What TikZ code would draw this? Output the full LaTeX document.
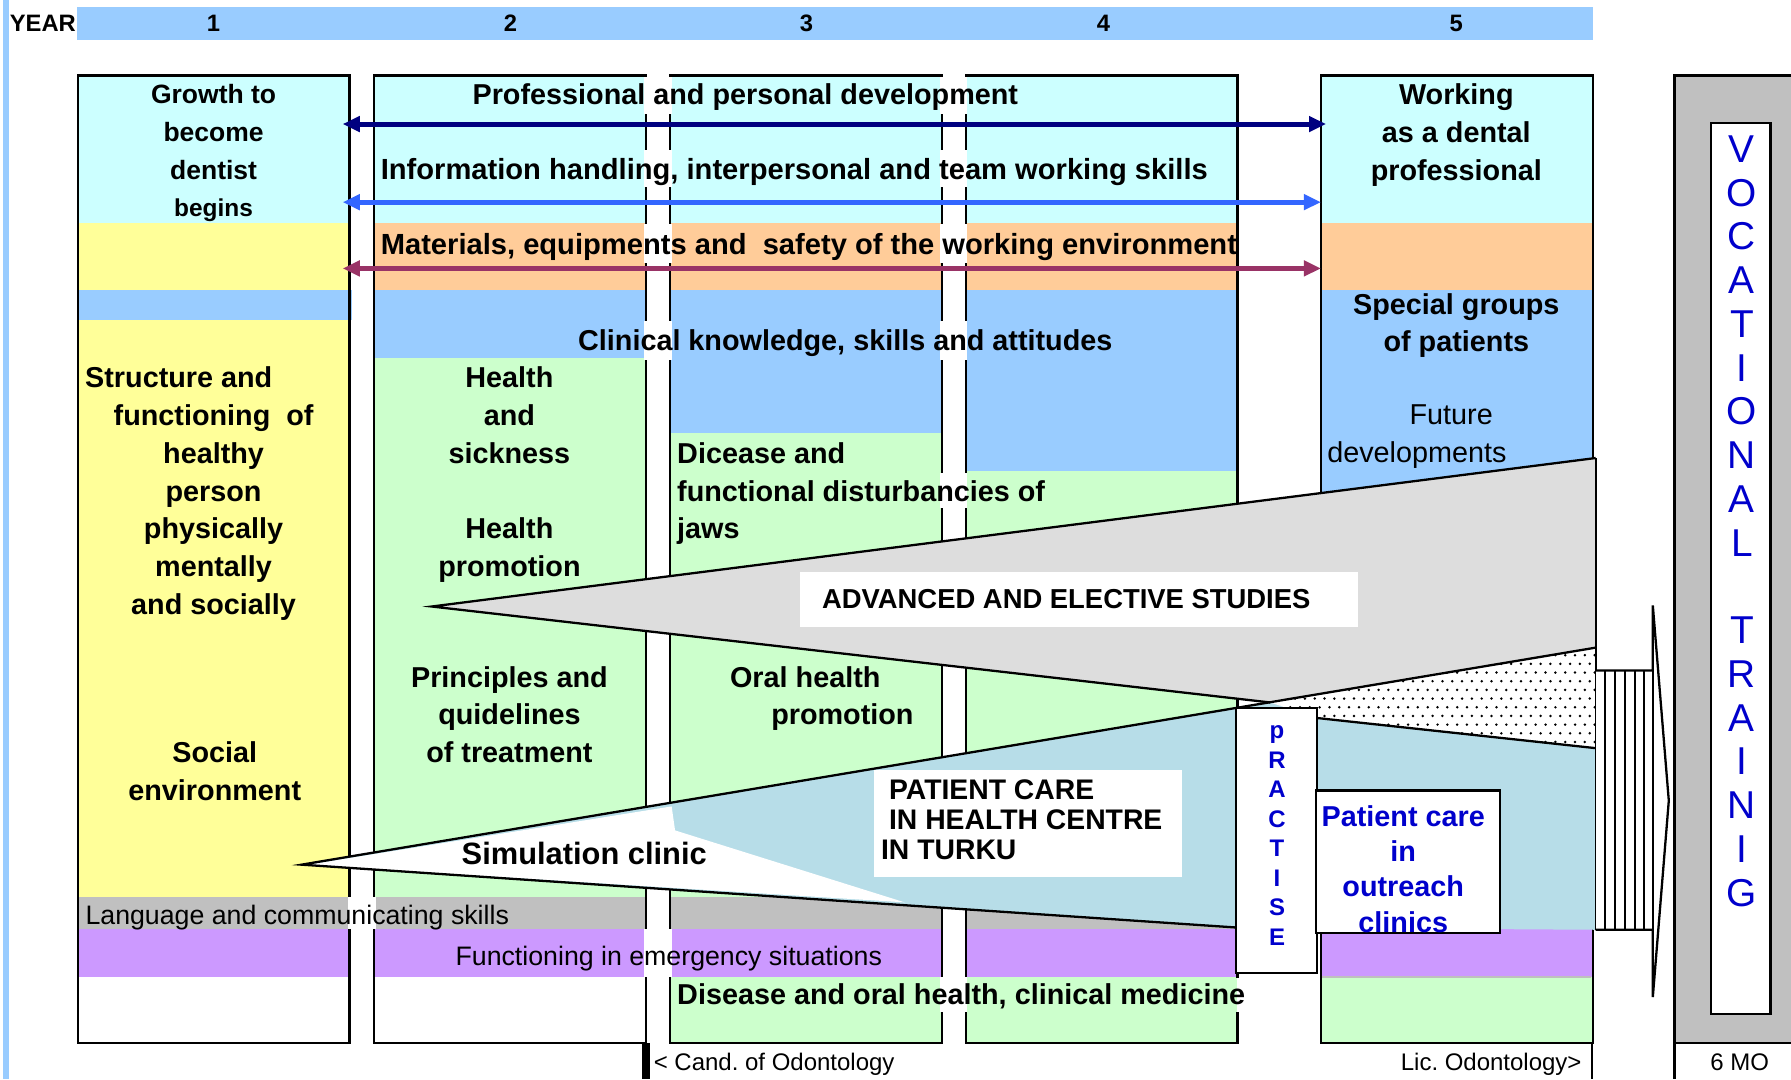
\documentclass[tikz,border=0pt]{standalone}
\usepackage{fontspec}
\setmainfont{Liberation Sans}
\usetikzlibrary{arrows.meta}
\frenchspacing

\definecolor{paleCyan}{HTML}{CCFFFF}
\definecolor{paleYellow}{HTML}{FFFF99}
\definecolor{skyBlue}{HTML}{99CCFF}
\definecolor{peach}{HTML}{FFCC99}
\definecolor{paleGreen}{HTML}{CCFFCC}
\definecolor{silver}{HTML}{C0C0C0}
\definecolor{lilac}{HTML}{CC99FF}
\definecolor{wedgeGrey}{HTML}{DDDDDD}
\definecolor{wedgeBlue}{HTML}{B7DDE8}
\definecolor{inkBlue}{HTML}{0000CC}
\definecolor{navyArrow}{HTML}{000080}
\definecolor{blueArrow}{HTML}{3366FF}
\definecolor{plumArrow}{HTML}{993366}

\begin{document}
\begin{tikzpicture}[x=0.5pt,y=-0.5pt,
    lab/.style={inner sep=0pt,anchor=north,align=center,font=\fontsize{12.6}{16.5}\selectfont\bfseries},
    labl/.style={lab,anchor=north west,align=left},
    labreg/.style={lab,font=\fontsize{12.6}{16.5}\selectfont},
    rowtext/.style={inner sep=0pt,anchor=north,font=\fontsize{11.7}{14}\selectfont},
    yeartext/.style={inner sep=0pt,anchor=north,font=\fontsize{10.4}{12}\selectfont\bfseries},
    foot/.style={inner sep=0pt,font=\fontsize{10.5}{12}\selectfont},
    colbox/.style={draw,line width=1pt},
    wedgeline/.style={line width=1pt},
    spanarrow/.style={line width=2.2pt,{Triangle[length=7.5pt,width=6.6pt]}-{Triangle[length=7.5pt,width=6.6pt]}},
    inkletter/.style={inner sep=0pt,text=inkBlue,text depth=0pt}]
\clip (0,0) rectangle (1568,945);
\fill[white] (0,0) rectangle (1568,945);

% year scale
\fill[skyBlue] (3,0) rectangle (8,945);
\fill[skyBlue] (67,6) rectangle (1395,35);
\node[yeartext] (yearlab) at (37.5,12.6) {YEAR};
\foreach \yr/\xx in {1/187,2/447,3/706,4/966,5/1275}
    \node[yeartext] (yr\yr) at (\xx,12.6) {\yr};

% colour rows of the columns
\foreach \xa in {68,327.5,586.5,845.5,1156.5}
    \fill[paleCyan] (\xa,66) rectangle (\xa+238,195.5);
\fill[paleYellow] (68,195.5) rectangle (306.5,254);
\fill[skyBlue] (68,254) rectangle (308,280);
\fill[paleYellow] (68,280) rectangle (306.5,785);
\foreach \xa in {327.5,586.5,845.5,1156.5}
    \fill[peach] (\xa,195.5) rectangle (\xa+238,254);
\foreach \xa/\yb in {327.5/313.5,586.5/379,845.5/412.5,1156.5/813} {
    \fill[skyBlue] (\xa,254) rectangle (\xa+238,\yb);
    \fill[paleGreen] (\xa,\yb) rectangle (\xa+238,785);
}
\foreach \xa in {68,327.5,586.5,845.5} {
    \fill[silver] (\xa,785) rectangle (\xa+238,813);
    \fill[lilac] (\xa,813) rectangle (\xa+238,855);
}
\fill[lilac] (1156.5,813) rectangle (1393.5,855);
\foreach \xa in {586.5,845.5,1156.5}
    \fill[paleGreen] (\xa,855) rectangle (\xa+238,913);
\draw[gray!50,line width=0.8pt] (1157,855) -- (1393,855);

% column frames
\foreach \xa in {68,327.5,586.5,845.5,1156.5}
    \draw[colbox] (\xa,66) rectangle (\xa+238,913);
% text rows run through the gaps
\foreach \gx/\ya/\yb in {564/67/99.5,823/67/99.5,564/131/164,823/131/164,564/196/230,823/196/230,
        564/281/315,823/281/315,823/414/445,305/785.5/813,564/813/855,823/855/886,1082.5/856/886}
    \fill[white] (\gx,\ya) rectangle (\gx+24,\yb);
\fill[paleGreen] (1082,856) rectangle (1083,886);

% vocational training
\draw[colbox,fill=silver] (1466,66) rectangle (1600,913);
\draw[colbox,fill=white] (1498,108) rectangle (1550,888);
\draw[line width=1pt] (1466,913) -- (1466,945);
\draw[line width=1pt] (1394,913) -- (1394,945);
\fill (562,913) rectangle (569,945);

% wedges
\coordinate (gtip) at (378,531);
\coordinate (gtop) at (1397,401);
\coordinate (btip) at (264,757);
\coordinate (btop) at (1397,567);
\coordinate (meet) at (1112,615);
\coordinate (bfoot) at (1082,812);
\coordinate (dbot) at (1397,655);
\coordinate (dlow) at (1153,628.6);
\fill[wedgeBlue] (btip) -- (btop) -- (1397,814) -- (bfoot) -- cycle;
\fill[wedgeGrey] (gtip) -- (gtop) -- (btop) -- (meet) -- cycle;
\fill[white] (meet) -- (btop) -- (dbot) -- (dlow) -- cycle;
\begin{scope}
    \clip (meet) -- (btop) -- (dbot) -- (dlow) -- cycle;
    \foreach \yy in {566,581.2,...,662}
        \foreach \xx in {1108,1116.6,...,1400}
            \fill (\xx,\yy) circle (0.6pt);
    \foreach \yy in {573.6,588.8,...,662}
        \foreach \xx in {1112.3,1120.9,...,1400}
            \fill (\xx,\yy) circle (0.6pt);
\end{scope}
\fill[white] (273,756.5) -- (588,706) -- (591,727) -- (792,790) -- (273,757.5) -- cycle;
\draw[wedgeline] (gtop) -- (gtip) -- (meet);
\draw[wedgeline] (btop) -- (btip) -- (bfoot);
\draw[wedgeline] (dlow) -- (dbot);
\draw[wedgeline] (gtop) -- (1397,814);

% striped arrow to vocational training
\fill[white] (1397,587) rectangle (1447,814);
\foreach \xx in {1405.5,1414,...,1440}
    \draw[line width=0.9pt] (\xx,587) -- (\xx,814);
\draw[line width=1pt] (1397,587) -- (1447,587) -- (1447,530) -- (1461,701) -- (1447,873) -- (1447,814) -- (1397,814);
\draw[line width=1pt] (1447,587) -- (1447,814);

% label boxes
\fill[white] (700,501) rectangle (1189,549);
\fill[white] (765,674) rectangle (1035,768);
\draw[line width=1pt,fill=white] (1082,620) rectangle (1153,852);
\draw[line width=1pt,fill=white] (1152,692) rectangle (1313,817);

% competence arrows
\coordinate (devL) at (300,108.6);
\coordinate (devR) at (1161,108.6);
\coordinate (infoL) at (300,177);
\coordinate (infoR) at (1156.5,177);
\coordinate (matL) at (300,235);
\coordinate (matR) at (1156.5,235);
\draw[spanarrow,navyArrow] (devL) -- (devR);
\draw[spanarrow,blueArrow] (infoL) -- (infoR);
\draw[spanarrow,plumArrow] (matL) -- (matR);

% column 1
\node[lab,font=\fontsize{11.6}{16.5}\selectfont\bfseries] (growth) at (187,73.7)
    {Growth to\\become\\dentist\\{\fontsize{10.7}{16.5}\selectfont begins}};
\node[lab] (structure) at (156.5,321) {Structure and};
\node[lab] (healthy) at (187,354)
    {functioning\ \ of\\healthy\\person\\physically\\mentally\\and socially};
\node[lab] (social) at (188,649) {Social\\environment};

% column 2
\node[lab] (sickness) at (446,321) {Health\\and\\sickness};
\node[lab] (promo) at (446,453) {Health\\promotion};
\node[lab] (principles) at (446,583) {Principles and\\quidelines\\of treatment};

% column 3
\node[labl] (dicease) at (592.5,387) {Dicease and\\functional disturbancies of\\jaws};
\node[lab] (oral) at (705,583) {Oral health};
\node[lab] (oralpromo) at (737.5,616) {promotion};

% rows across the years
\node[lab] (develop) at (652.5,73) {Professional and personal development};
\node[labl,font=\fontsize{12.75}{16.5}\selectfont\bfseries] (info) at (333,138)
    {Information handling, interpersonal and team working skills};
\node[labl,font=\fontsize{12.75}{16.5}\selectfont\bfseries] (materials) at (333,204)
    {Materials, equipments and\ \ safety of the working environment};
\node[lab] (clinical) at (740,288.5) {Clinical knowledge, skills and attitudes};
\node[rowtext,anchor=north west] (language) at (74.5,791.6) {Language and communicating skills};
\node[rowtext] (emergency) at (585.5,827.6) {Functioning in emergency situations};
\node[labl] (disease) at (592.5,860.5) {Disease and oral health, clinical medicine};

% column 5
\node[lab] (working) at (1275,73) {Working\\as a dental\\professional};
\node[lab] (special) at (1275,256.5) {Special groups\\of patients};
\node[labreg] (future) at (1270.5,354) {Future};
\node[labreg] (developments) at (1240.5,386.5) {developments};

% wedge labels
\node[lab,anchor=center,font=\fontsize{12}{14}\selectfont\bfseries] (advanced) at (933.5,524.6)
    {ADVANCED AND ELECTIVE STUDIES};
\node[lab,font=\fontsize{13.5}{15}\selectfont\bfseries] (simulation) at (511.5,737.3) {Simulation clinic};
\node[labl,font=\fontsize{12.4}{13.3}\selectfont\bfseries] (turku) at (771,682)
    {\hspace*{3.5pt}PATIENT CARE\\\hspace*{3.5pt}IN HEALTH CENTRE\\IN TURKU};
\node[lab,text=inkBlue,font=\fontsize{12.6}{15.5}\selectfont\bfseries] (outreach) at (1228.5,704.5)
    {Patient care\\in\\outreach\\clinics};
\foreach \ch [count=\i] in {p,R,A,C,T,I,S,E}
    \node[inkletter,font=\fontsize{10.5}{11}\selectfont\bfseries,text height=7.5pt] (prac\i)
        at (1118,{639+25.9*(\i-1)}) {\ch};
\foreach \ch [count=\i] in {V,O,C,A,T,I,O,N,A,L,{},T,R,A,I,N,I,G}
    \node[inkletter,font=\fontsize{17}{17}\selectfont,text height=12.2pt] (voc\i)
        at (1525,{130+38.3*(\i-1)}) {\ch};

% degrees
\node[foot,anchor=north west] (cand) at (572,922) {< Cand. of Odontology};
\node[foot,anchor=north east] (lic) at (1385,922) {Lic. Odontology>};
\node[foot,anchor=north west] (sixmo) at (1497,922) {6 MO};
\end{tikzpicture}
\end{document}
